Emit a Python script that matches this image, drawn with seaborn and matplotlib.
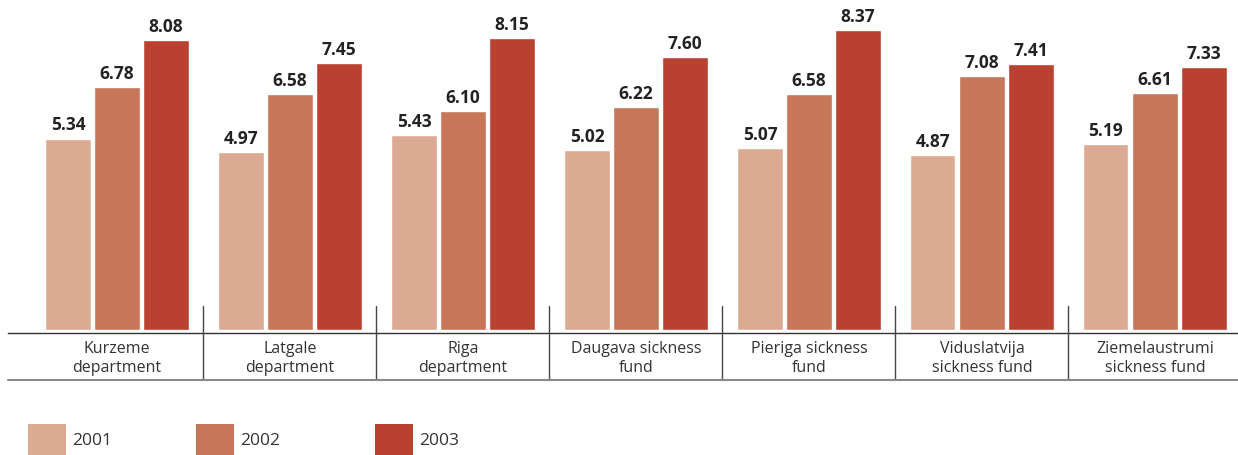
import pandas as pd
import seaborn as sns
import matplotlib.pyplot as plt
from matplotlib.patches import Rectangle
from matplotlib.lines import Line2D
from matplotlib import transforms

# data
regions = ["Kurzeme\ndepartment", "Latgale\ndepartment", "Riga\ndepartment",
           "Daugava sickness\nfund", "Pieriga sickness\nfund",
           "Viduslatvija\nsickness fund", "Ziemelaustrumi\nsickness fund"]
years = ["2001", "2002", "2003"]
v2001 = [5.34, 4.97, 5.43, 5.02, 5.07, 4.87, 5.19]
v2002 = [6.78, 6.58, 6.10, 6.22, 6.58, 7.08, 6.61]
v2003 = [8.08, 7.45, 8.15, 7.60, 8.37, 7.41, 7.33]
colors = ["#DCAA92", "#C8765A", "#B84130"]

df = pd.DataFrame({"region": regions * 3,
                   "year": [y for y in years for _ in regions],
                   "value": v2001 + v2002 + v2003})

sns.set_style("white")
plt.rcParams["font.family"] = ["Open Sans", "DejaVu Sans"]

fig = plt.figure(figsize=(12.38, 4.55), dpi=100)
ax = fig.add_axes([8 / 1238, 1 - 333 / 455, 1 - 8 / 1238, 333 / 455])

sns.barplot(data=df, x="region", y="value", hue="year", palette=colors,
            width=0.85, gap=0.08, saturation=1, legend=False, ax=ax)

for c in ax.containers:
    ax.bar_label(c, fmt="%.2f", padding=3, fontsize=12.5, fontweight="bold",
                 color="#222222")

ax.set_xlim(-0.63, 6.48)
ax.set_ylim(-0.08, 9.2)
ax.set_xlabel("")
ax.set_ylabel("")
ax.set_yticks([])
ax.tick_params(axis="x", length=0, pad=6, labelsize=11.5, labelcolor="#333333")
for lab in ax.get_xticklabels():
    lab.set_linespacing(1.25)
for s in ["top", "left", "right"]:
    ax.spines[s].set_visible(False)
ax.spines["bottom"].set_color("#333333")
ax.spines["bottom"].set_linewidth(1.0)

# separators between groups and bottom rule
tr = transforms.blended_transform_factory(ax.transData, fig.transFigure)
for k in range(len(regions) - 1):
    fig.add_artist(Line2D([k + 0.5, k + 0.5], [1 - 306 / 455, 1 - 380 / 455],
                          transform=tr, color="#444444", lw=1.0))
fig.add_artist(Line2D([8 / 1238, 1], [1 - 380 / 455, 1 - 380 / 455],
                      transform=fig.transFigure, color="#888888", lw=1.5))

# legend
lx = [28, 196, 375]
for x0, c, y in zip(lx, colors, years):
    fig.add_artist(Rectangle((x0 / 1238, 1 - 455 / 455), 38 / 1238, 31 / 455,
                             transform=fig.transFigure, color=c, lw=0))
    fig.text((x0 + 44) / 1238, 1 - 441 / 455, y, fontsize=12.5,
             color="#333333", va="center", ha="left")

fig.savefig("out.png", dpi=100)
